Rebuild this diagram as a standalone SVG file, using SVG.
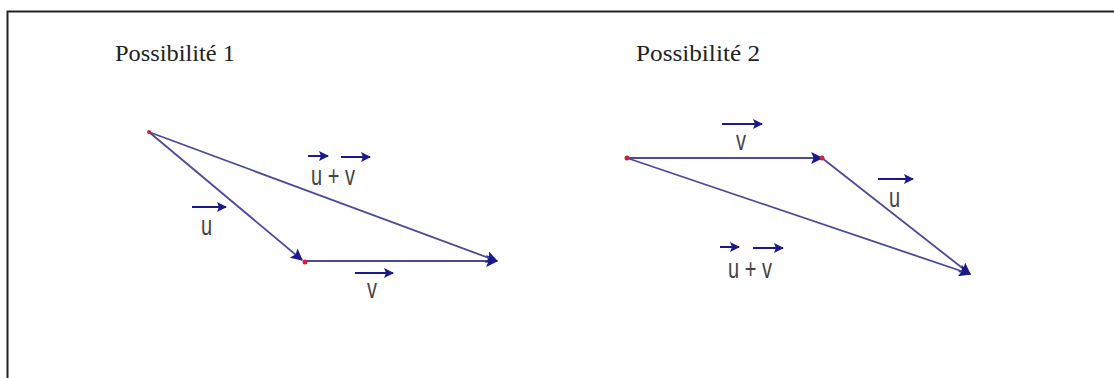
<svg xmlns="http://www.w3.org/2000/svg" width="1114" height="378" viewBox="0 0 1114 378">
<defs>
<marker id="ah" viewBox="0 0 10 10" refX="9" refY="5" markerWidth="13" markerHeight="12" markerUnits="userSpaceOnUse" orient="auto">
<path d="M0,0 L10,5 L0,10 L2,5 Z" fill="#1a1a8c"/>
</marker>
<marker id="sh" viewBox="0 0 10 10" refX="9" refY="5" markerWidth="10" markerHeight="10" markerUnits="userSpaceOnUse" orient="auto">
<path d="M0,0 L10,5 L0,10 L2,5 Z" fill="#1a1a8c"/>
</marker>
<style>
.vec{stroke:#4a4a9a;stroke-width:1.8;fill:none;marker-end:url(#ah)}
.ov{stroke:#1a1a8c;stroke-width:2;fill:none;marker-end:url(#sh)}
.lbl{font-family:"Liberation Sans",Arial,sans-serif;font-size:20px;fill:#444}
.title{font-family:"Liberation Serif","Times New Roman",serif;font-size:24px;fill:#222}
.dot{fill:#d0203a}
</style>
</defs>
<rect x="0" y="0" width="1114" height="378" fill="#fff"/>
<path d="M7.5,378 L7.5,11.5 L1114,11.5" fill="none" stroke="#222" stroke-width="2"/>

<text class="title" x="115" y="61" textLength="120" lengthAdjust="spacingAndGlyphs">Possibilité 1</text>
<text class="title" x="636" y="61" textLength="124" lengthAdjust="spacingAndGlyphs">Possibilité 2</text>

<g id="connectors">
<line class="vec" x1="149" y1="132" x2="302" y2="260"/>
<line class="vec" x1="304" y1="261" x2="497" y2="261"/>
<line class="vec" x1="149" y1="132" x2="497" y2="261"/>
<line class="vec" x1="627" y1="158" x2="822" y2="158"/>
<line class="vec" x1="822" y1="158" x2="970" y2="274"/>
<line class="vec" x1="627" y1="158" x2="970" y2="274"/>
</g>

<g id="points">
<circle class="dot" cx="149" cy="132" r="2"/>
<circle class="dot" cx="305" cy="262" r="2.5"/>
<circle class="dot" cx="627" cy="158" r="2.5"/>
<circle class="dot" cx="822" cy="158" r="2.5"/>
</g>

<g id="label-u-1">
<line class="ov" x1="192" y1="207" x2="226" y2="207"/>
<text class="lbl" x="201" y="235" transform="translate(201 235) scale(1 1.35) translate(-201 -235)">u</text>
</g>
<g id="label-v-1">
<line class="ov" x1="355" y1="273" x2="393" y2="273"/>
<text class="lbl" x="367" y="298" transform="translate(367 298) scale(1 1.35) translate(-367 -298)">v</text>
</g>
<g id="label-uv-1">
<line class="ov" x1="308" y1="156" x2="328" y2="156"/>
<line class="ov" x1="341" y1="157" x2="370" y2="157"/>
<text class="lbl" x="311" y="185" transform="translate(311 185) scale(1 1.35) translate(-311 -185)">u + v</text>
</g>
<g id="label-v-2">
<line class="ov" x1="722" y1="124" x2="762" y2="124"/>
<text class="lbl" x="736" y="150" transform="translate(736 150) scale(1 1.35) translate(-736 -150)">v</text>
</g>
<g id="label-u-2">
<line class="ov" x1="878" y1="179" x2="913" y2="179"/>
<text class="lbl" x="889" y="207" transform="translate(889 207) scale(1 1.35) translate(-889 -207)">u</text>
</g>
<g id="label-uv-2">
<line class="ov" x1="720" y1="247" x2="739" y2="247"/>
<line class="ov" x1="753" y1="248" x2="783" y2="248"/>
<text class="lbl" x="728" y="278" transform="translate(728 278) scale(1 1.35) translate(-728 -278)">u + v</text>
</g>
</svg>
